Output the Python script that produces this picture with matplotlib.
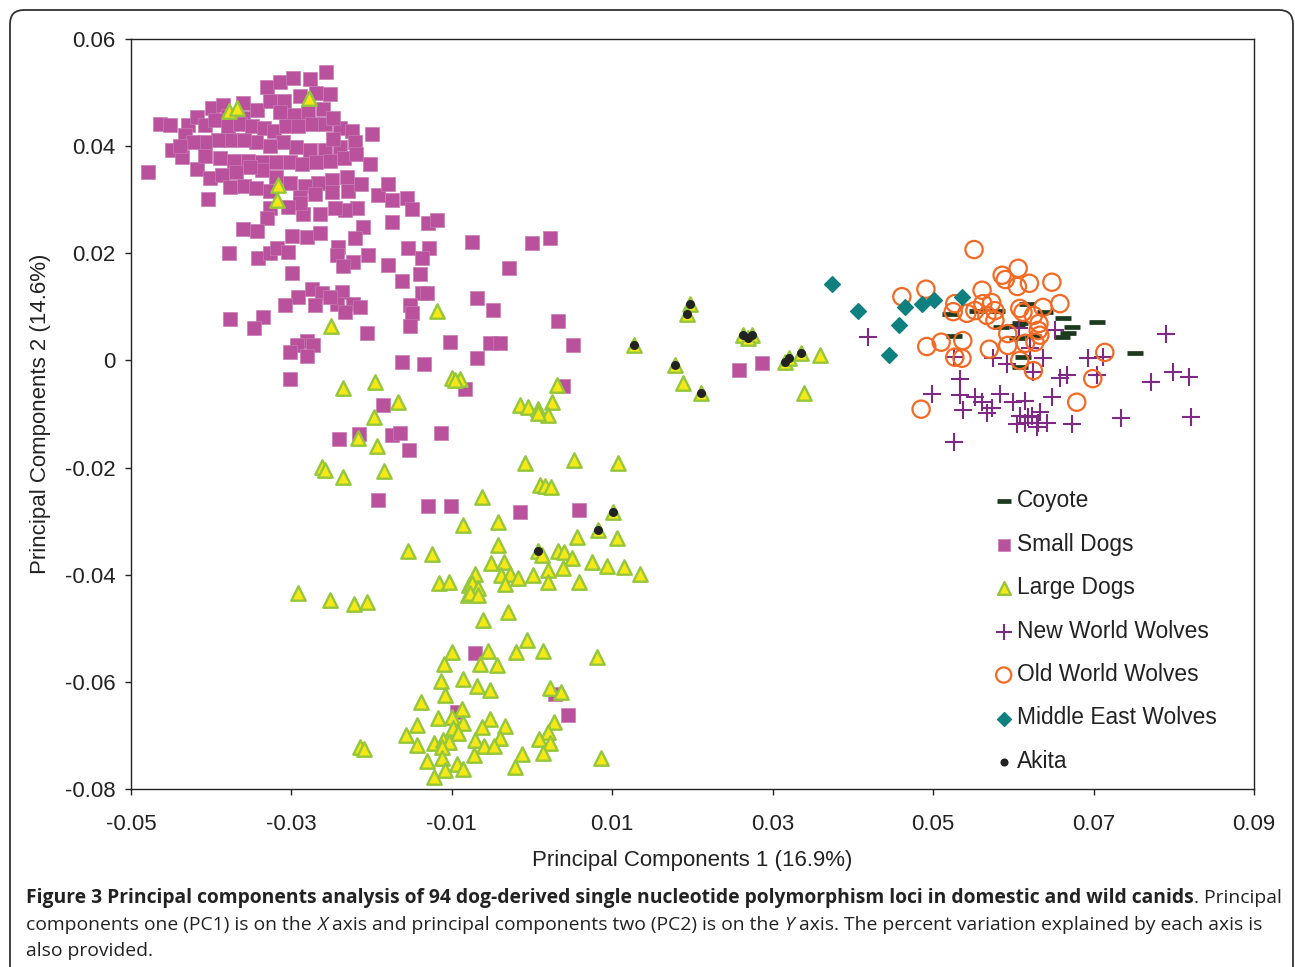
import matplotlib
matplotlib.use("Agg")
import matplotlib.pyplot as plt
from matplotlib import font_manager
from matplotlib.patches import FancyBboxPatch
from matplotlib.transforms import IdentityTransform
import numpy as np

# (PC1, PC2) scores
coyote = np.array([
    (0.0521, 0.0086), (0.0526, 0.0045), (0.0555, 0.0093), (0.0580, 0.0093),
    (0.0585, 0.0062), (0.0608, 0.0069), (0.0605, 0.0041), (0.0612, 0.0006),
    (0.0617, 0.0106), (0.0608, -0.0013), (0.0640, 0.0091), (0.0662, 0.0080),
    (0.0704, 0.0071), (0.0673, 0.0062), (0.0668, 0.0052), (0.0661, 0.0043),
    (0.0605, 0.0065), (0.0625, 0.0045), (0.0752, 0.0013),
])

small_dogs = np.array([
    (-0.0479, 0.0351), (-0.0464, 0.0442), (-0.0451, 0.0439), (-0.0429, 0.0439),
    (-0.0418, 0.0454), (-0.0433, 0.0420), (-0.0449, 0.0392), (-0.0436, 0.0379),
    (-0.0418, 0.0358), (-0.0401, 0.0340), (-0.0404, 0.0302), (-0.0399, 0.0472),
    (-0.0385, 0.0476), (-0.0360, 0.0480), (-0.0343, 0.0467), (-0.0330, 0.0511),
    (-0.0314, 0.0519), (-0.0298, 0.0528), (-0.0277, 0.0526), (-0.0257, 0.0538),
    (-0.0269, 0.0500), (-0.0289, 0.0493), (-0.0309, 0.0485), (-0.0327, 0.0485),
    (-0.0252, 0.0497), (-0.0261, 0.0470), (-0.0279, 0.0463), (-0.0297, 0.0459),
    (-0.0314, 0.0463), (-0.0360, 0.0452), (-0.0379, 0.0457), (-0.0408, 0.0439),
    (-0.0395, 0.0448), (-0.0379, 0.0437), (-0.0364, 0.0441), (-0.0349, 0.0437),
    (-0.0334, 0.0433), (-0.0322, 0.0429), (-0.0307, 0.0437), (-0.0292, 0.0437),
    (-0.0274, 0.0441), (-0.0258, 0.0441), (-0.0239, 0.0433), (-0.0224, 0.0429),
    (-0.0199, 0.0422), (-0.0221, 0.0407), (-0.0239, 0.0399), (-0.0258, 0.0392),
    (-0.0277, 0.0392), (-0.0294, 0.0399), (-0.0310, 0.0407), (-0.0327, 0.0401),
    (-0.0344, 0.0407), (-0.0359, 0.0411), (-0.0377, 0.0411), (-0.0391, 0.0411),
    (-0.0408, 0.0407), (-0.0423, 0.0407), (-0.0439, 0.0401), (-0.0408, 0.0381),
    (-0.0389, 0.0377), (-0.0372, 0.0373), (-0.0354, 0.0373), (-0.0337, 0.0370),
    (-0.0319, 0.0370), (-0.0302, 0.0370), (-0.0287, 0.0366), (-0.0269, 0.0370),
    (-0.0252, 0.0373), (-0.0234, 0.0377), (-0.0219, 0.0385), (-0.0202, 0.0366),
    (-0.0231, 0.0343), (-0.0249, 0.0336), (-0.0267, 0.0332), (-0.0283, 0.0325),
    (-0.0302, 0.0332), (-0.0319, 0.0343), (-0.0337, 0.0355), (-0.0352, 0.0362),
    (-0.0369, 0.0351), (-0.0386, 0.0347), (-0.0377, 0.0323), (-0.0359, 0.0325),
    (-0.0344, 0.0321), (-0.0327, 0.0317), (-0.0289, 0.0306), (-0.0271, 0.0310),
    (-0.0249, 0.0314), (-0.0229, 0.0317), (-0.0213, 0.0329), (-0.0192, 0.0308),
    (-0.0180, 0.0329), (-0.0175, 0.0299), (-0.0156, 0.0304), (-0.0150, 0.0282),
    (-0.0175, 0.0259), (-0.0130, 0.0256), (-0.0118, 0.0263), (-0.0075, 0.0222),
    (-0.0218, 0.0284), (-0.0233, 0.0280), (-0.0246, 0.0284), (-0.0264, 0.0274),
    (-0.0286, 0.0274), (-0.0289, 0.0293), (-0.0304, 0.0287), (-0.0327, 0.0284),
    (-0.0330, 0.0265), (-0.0360, 0.0245), (-0.0343, 0.0241), (-0.0299, 0.0233),
    (-0.0281, 0.0230), (-0.0264, 0.0237), (-0.0242, 0.0211), (-0.0243, 0.0196),
    (-0.0223, 0.0183), (-0.0236, 0.0177), (-0.0211, 0.0250), (-0.0221, 0.0228),
    (-0.0204, 0.0196), (-0.0180, 0.0179), (-0.0155, 0.0209), (-0.0128, 0.0209),
    (-0.0137, 0.0192), (-0.0140, 0.0162), (-0.0162, 0.0149), (-0.0137, 0.0125),
    (-0.0131, 0.0125), (-0.0152, 0.0103), (-0.0150, 0.0088), (-0.0152, 0.0065),
    (-0.0378, 0.0200), (-0.0342, 0.0192), (-0.0327, 0.0200), (-0.0318, 0.0209),
    (-0.0304, 0.0202), (-0.0299, 0.0164), (-0.0274, 0.0134), (-0.0262, 0.0125),
    (-0.0292, 0.0118), (-0.0308, 0.0103), (-0.0271, 0.0103), (-0.0377, 0.0078),
    (-0.0335, 0.0082), (-0.0347, 0.0060), (-0.0237, 0.0127), (-0.0223, 0.0106),
    (-0.0243, 0.0106), (-0.0214, 0.0099), (-0.0233, 0.0090), (-0.0252, 0.0118),
    (-0.0206, 0.0052), (-0.0281, 0.0037), (-0.0273, 0.0028), (-0.0293, 0.0028),
    (-0.0302, 0.0015), (-0.0281, 0.0009), (-0.0302, -0.0034), (-0.0102, 0.0035),
    (-0.0162, -0.0002), (-0.0135, -0.0006), (-0.0069, 0.0116), (-0.0049, 0.0095),
    (-0.0029, 0.0172), (0.0000, 0.0220), (0.0022, 0.0228), (0.0032, 0.0073),
    (0.0051, 0.0028), (-0.0052, 0.0032), (-0.0040, 0.0032), (-0.0069, 0.0004),
    (-0.0084, -0.0054), (0.0039, -0.0047), (-0.0186, -0.0084), (-0.0216, -0.0138),
    (-0.0241, -0.0146), (-0.0175, -0.0140), (-0.0165, -0.0136), (-0.0153, -0.0168),
    (-0.0113, -0.0136), (-0.0192, -0.0261), (-0.0130, -0.0271), (-0.0101, -0.0271),
    (-0.0015, -0.0282), (0.0059, -0.0280), (-0.0071, -0.0547), (0.0029, -0.0622),
    (0.0045, -0.0661), (-0.0094, -0.0657), (0.0258, -0.0017), (0.0287, -0.0004),
    (-0.0248, 0.0413), (-0.0248, 0.0453),
])

large_dogs = np.array([
    (-0.0378, 0.0465), (-0.0368, 0.0472), (-0.0278, 0.0489), (-0.0317, 0.0327),
    (-0.0318, 0.0299), (-0.0251, 0.0065), (-0.0118, 0.0093), (-0.0236, -0.0052),
    (-0.0196, -0.0041), (-0.0167, -0.0078), (-0.0197, -0.0105), (-0.0217, -0.0144),
    (-0.0193, -0.0159), (-0.0262, -0.0198), (-0.0258, -0.0205), (-0.0236, -0.0218),
    (-0.0185, -0.0207), (-0.0100, -0.0032), (-0.0090, -0.0034), (-0.0096, -0.0037),
    (0.0031, -0.0045), (-0.0015, -0.0084), (-0.0005, -0.0086), (0.0007, -0.0090),
    (0.0025, -0.0078), (0.0020, -0.0101), (0.0007, -0.0099), (-0.0009, -0.0192),
    (0.0052, -0.0185), (0.0107, -0.0192), (0.0010, -0.0233), (0.0016, -0.0235),
    (0.0024, -0.0237), (-0.0062, -0.0254), (0.0127, 0.0028), (0.0178, -0.0009),
    (0.0197, 0.0105), (0.0193, 0.0086), (0.0188, -0.0043), (0.0211, -0.0060),
    (0.0263, 0.0047), (0.0274, 0.0047), (0.0269, 0.0041), (0.0315, -0.0002),
    (0.0320, 0.0004), (0.0335, 0.0013), (0.0359, 0.0011), (0.0339, -0.0060),
    (-0.0086, -0.0308), (-0.0155, -0.0355), (-0.0125, -0.0362), (-0.0116, -0.0416),
    (-0.0103, -0.0413), (-0.0079, -0.0420), (-0.0080, -0.0437), (-0.0292, -0.0435),
    (-0.0252, -0.0448), (-0.0222, -0.0454), (-0.0206, -0.0450), (-0.0100, -0.0545),
    (-0.0110, -0.0566), (-0.0113, -0.0599), (-0.0108, -0.0625), (-0.0086, -0.0594),
    (-0.0138, -0.0638), (-0.0087, -0.0650), (-0.0117, -0.0668), (-0.0100, -0.0666),
    (-0.0143, -0.0680), (-0.0086, -0.0676), (-0.0099, -0.0687), (-0.0092, -0.0695),
    (-0.0157, -0.0700), (-0.0143, -0.0717), (-0.0122, -0.0715), (-0.0111, -0.0708),
    (-0.0103, -0.0713), (-0.0112, -0.0722), (-0.0214, -0.0721), (-0.0209, -0.0726),
    (-0.0131, -0.0747), (-0.0112, -0.0743), (-0.0094, -0.0754), (-0.0086, -0.0762),
    (-0.0108, -0.0765), (-0.0122, -0.0777), (-0.0042, -0.0302), (0.0101, -0.0282),
    (0.0082, -0.0316), (0.0056, -0.0329), (0.0106, -0.0332), (0.0007, -0.0355),
    (0.0012, -0.0364), (-0.0042, -0.0345), (0.0032, -0.0355), (0.0040, -0.0357),
    (0.0050, -0.0368), (-0.0051, -0.0379), (-0.0035, -0.0377), (0.0020, -0.0392),
    (0.0039, -0.0388), (0.0075, -0.0377), (0.0094, -0.0383), (0.0115, -0.0386),
    (0.0135, -0.0398), (0.0001, -0.0401), (-0.0039, -0.0401), (-0.0027, -0.0398),
    (-0.0017, -0.0407), (-0.0071, -0.0398), (-0.0075, -0.0416), (-0.0067, -0.0424),
    (-0.0077, -0.0435), (-0.0067, -0.0437), (-0.0034, -0.0418), (0.0020, -0.0414),
    (0.0059, -0.0414), (-0.0030, -0.0469), (-0.0061, -0.0485), (-0.0006, -0.0521),
    (-0.0055, -0.0543), (-0.0020, -0.0545), (0.0014, -0.0543), (0.0081, -0.0553),
    (-0.0065, -0.0566), (-0.0044, -0.0569), (-0.0069, -0.0607), (-0.0052, -0.0616),
    (0.0022, -0.0612), (0.0036, -0.0618), (-0.0052, -0.0670), (-0.0062, -0.0685),
    (-0.0034, -0.0683), (0.0027, -0.0674), (0.0020, -0.0694), (0.0009, -0.0706),
    (-0.0040, -0.0704), (-0.0071, -0.0709), (-0.0060, -0.0719), (-0.0047, -0.0719),
    (0.0022, -0.0715), (0.0014, -0.0732), (-0.0012, -0.0734), (-0.0072, -0.0736),
    (-0.0021, -0.0758), (0.0086, -0.0743),
])

new_world = np.array([
    (0.0419, 0.0043), (0.0526, 0.0006), (0.0534, -0.0034), (0.0499, -0.0062),
    (0.0534, -0.0065), (0.0537, -0.0093), (0.0552, -0.0069), (0.0561, -0.0078),
    (0.0573, -0.0088), (0.0583, -0.0062), (0.0600, -0.0078), (0.0615, -0.0075),
    (0.0608, -0.0103), (0.0615, -0.0116), (0.0623, -0.0103), (0.0575, 0.0004),
    (0.0592, -0.0006), (0.0607, 0.0060), (0.0621, 0.0024), (0.0526, -0.0153),
    (0.0567, -0.0099), (0.0790, 0.0050), (0.0652, 0.0056), (0.0693, 0.0004),
    (0.0712, 0.0007), (0.0637, 0.0004), (0.0799, -0.0021), (0.0819, -0.0030),
    (0.0772, -0.0041), (0.0658, -0.0032), (0.0667, -0.0028), (0.0704, -0.0028),
    (0.0625, -0.0022), (0.0648, -0.0069), (0.0633, -0.0097), (0.0618, -0.0106),
    (0.0631, -0.0116), (0.0605, -0.0118), (0.0630, -0.0125), (0.0642, -0.0116),
    (0.0673, -0.0119), (0.0734, -0.0108), (0.0822, -0.0105),
])

old_world = np.array([
    (0.0551, 0.0207), (0.0461, 0.0119), (0.0491, 0.0133), (0.0586, 0.0159),
    (0.0590, 0.0151), (0.0606, 0.0172), (0.0605, 0.0138), (0.0620, 0.0144),
    (0.0648, 0.0146), (0.0561, 0.0131), (0.0527, 0.0106), (0.0525, 0.0091),
    (0.0542, 0.0088), (0.0552, 0.0093), (0.0562, 0.0106), (0.0573, 0.0108),
    (0.0577, 0.0093), (0.0567, 0.0084), (0.0577, 0.0075), (0.0608, 0.0097),
    (0.0612, 0.0090), (0.0625, 0.0084), (0.0637, 0.0099), (0.0658, 0.0106),
    (0.0632, 0.0069), (0.0633, 0.0047), (0.0627, 0.0034), (0.0615, 0.0032),
    (0.0593, 0.0050), (0.0593, 0.0028), (0.0608, 0.0000), (0.0625, -0.0019),
    (0.0492, 0.0026), (0.0510, 0.0034), (0.0537, 0.0037), (0.0527, 0.0006),
    (0.0536, 0.0004), (0.0570, 0.0021), (0.0485, -0.0091), (0.0714, 0.0015),
    (0.0699, -0.0034), (0.0679, -0.0078), (0.0631, 0.0056),
])

middle_east = np.array([
    (0.0374, 0.0142), (0.0406, 0.0093), (0.0458, 0.0067), (0.0445, 0.0011),
    (0.0465, 0.0099), (0.0486, 0.0106), (0.0501, 0.0112), (0.0536, 0.0119),
])

akita = np.array([
    (0.0127, 0.0028), (0.0178, -0.0009), (0.0197, 0.0105), (0.0193, 0.0086),
    (0.0211, -0.0060), (0.0263, 0.0047), (0.0274, 0.0047), (0.0269, 0.0041),
    (0.0315, -0.0002), (0.0320, 0.0004), (0.0335, 0.0013), (0.0101, -0.0282),
    (0.0082, -0.0316), (0.0007, -0.0355),
])

x_ticks = [-0.05, -0.03, -0.01, 0.01, 0.03, 0.05, 0.07, 0.09]
x_labels = ["-0.05", "-0.03", "-0.01", "0.01", "0.03", "0.05", "0.07", "0.09"]
y_ticks = [-0.08, -0.06, -0.04, -0.02, 0.0, 0.02, 0.04, 0.06]
y_labels = ["-0.08", "-0.06", "-0.04", "-0.02", "0", "0.02", "0.04", "0.06"]

plt.rcParams["font.family"] = ["Liberation Sans", "DejaVu Sans"]

W, H = 1295, 967
fig = plt.figure(figsize=(W / 100, H / 100), dpi=100)
ax = fig.add_axes([131 / W, 1 - 789 / H, 1123 / W, 750 / H])

ax.scatter(coyote[:, 0], coyote[:, 1], marker="_", s=130, linewidths=3.4,
           color="#1c3a1e", label="Coyote", zorder=2)
ax.scatter(small_dogs[:, 0], small_dogs[:, 1], marker="s", s=104,
           color="#b9519d", edgecolors="#c77cb4", linewidths=0.5,
           label="Small Dogs", zorder=3)
ax.scatter(large_dogs[:, 0], large_dogs[:, 1], marker="^", s=108,
           color="#f5e816", edgecolors="#95c73c", linewidths=1.7,
           label="Large Dogs", zorder=4)
ax.scatter(new_world[:, 0], new_world[:, 1], marker="+", s=165, linewidths=1.5,
           color="#7e2a85", label="New World Wolves", zorder=5)
ax.scatter(old_world[:, 0], old_world[:, 1], marker="o", s=155,
           facecolors="none", edgecolors="#f26a24", linewidths=1.6,
           label="Old World Wolves", zorder=6)
ax.scatter(middle_east[:, 0], middle_east[:, 1], marker="D", s=64,
           color="#0e8080", label="Middle East Wolves", zorder=7)
ax.scatter(akita[:, 0], akita[:, 1], marker="o", s=30, color="#222222",
           label="Akita", zorder=8)

ax.set_xlim(-0.05, 0.09)
ax.set_ylim(-0.08, 0.06)
ax.set_xticks(x_ticks)
ax.set_xticklabels(x_labels)
ax.set_yticks(y_ticks)
ax.set_yticklabels(y_labels)
ax.tick_params(direction="out", length=4, width=1, labelsize=16,
               colors="#222222")
ax.tick_params(axis="x", pad=14)
ax.tick_params(axis="y", pad=7)
for sp in ax.spines.values():
    sp.set_linewidth(1.0)
    sp.set_color("#222222")

ax.set_xlabel("Principal Components 1 (16.9%)", fontsize=16, color="#222222")
ax.set_ylabel("Principal Components 2 (14.6%)", fontsize=16, color="#222222")
ax.xaxis.set_label_coords(0.5, -0.081)
ax.yaxis.set_label_coords(-0.0708, 0.5)

ax.legend(loc="upper left", bbox_to_anchor=(0.768, 0.40), frameon=False,
          fontsize=16.4, labelspacing=0.9, handletextpad=0.12,
          handlelength=0.9, borderaxespad=0, borderpad=0, markerscale=0.88,
          scatterpoints=1, labelcolor="#222222")

# rounded frame around the whole panel
frame = FancyBboxPatch((10, -40), 1283, 997,
                       boxstyle="round,pad=0,rounding_size=14",
                       transform=IdentityTransform(), facecolor="none",
                       edgecolor="#333333", linewidth=1.3)
fig.add_artist(frame)

# caption, drawn as runs of bold / regular / italic text
try:
    font_manager.findfont("Liberation Sans Narrow", fallback_to_default=False)
    cap_family = ["Liberation Sans Narrow", "DejaVu Sans"]
except Exception:
    cap_family = ["Open Sans", "DejaVu Sans"]

renderer = fig.canvas.get_renderer()


def text_width(s, size, weight="normal", style="normal"):
    t = fig.text(0, 0, s, fontsize=size, fontweight=weight, fontstyle=style,
                 family=cap_family)
    w = t.get_window_extent(renderer).width
    t.remove()
    return w


line1 = [("Figure 3 Principal components analysis of 94 dog-derived single "
          "nucleotide polymorphism loci in domestic and wild canids", "bold", "normal"),
         (". Principal", "normal", "normal")]
line2 = [("components one (PC1) is on the", "normal", "normal"),
         (" X", "normal", "italic"),
         (" axis and principal components two (PC2) is on the", "normal", "normal"),
         (" Y", "normal", "italic"),
         (" axis. The percent variation explained by each axis is", "normal", "normal")]
line3 = [("also provided.", "normal", "normal")]

base = 12.0
w1 = sum(text_width(s, base, wt, st) for s, wt, st in line1)
cap_size = base * 1252 / w1
space_w = text_width("a a", cap_size) - text_width("aa", cap_size)


def draw_line(runs, x0, ybase):
    x = x0
    for s, wt, st in runs:
        if s.startswith(" "):
            x += space_w
            s = s[1:]
        t = fig.text(x / W, 1 - ybase / H, s, fontsize=cap_size, fontweight=wt,
                     fontstyle=st, family=cap_family, va="baseline",
                     color="#222222")
        x += t.get_window_extent(renderer).width


draw_line(line1, 26, 903)
draw_line(line2, 26, 929.5)
draw_line(line3, 26, 956)

fig.savefig("out.png", dpi=100)
